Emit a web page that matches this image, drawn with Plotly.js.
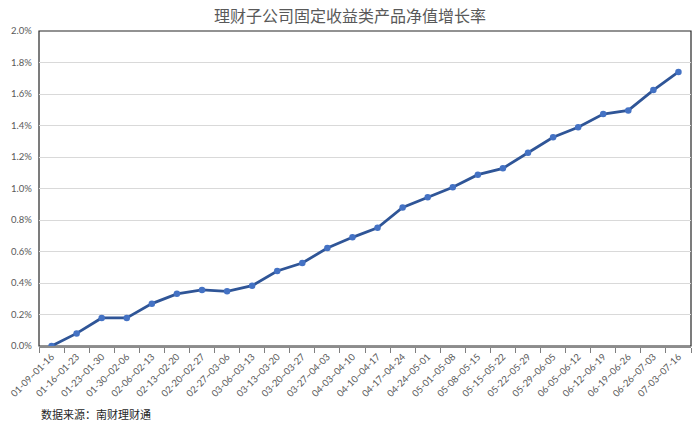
<!DOCTYPE html>
<html>
<head>
<meta charset="utf-8">
<script src="https://cdn.plot.ly/plotly-3.0.1.min.js"></script>
<style>html,body{margin:0;padding:0;background:#fff;}#chart{width:700px;height:431px;}</style>
</head>
<body>
<div id="chart"></div>
<script>
const categories = ["01-09~01-16","01-16~01-23","01-23~01-30","01-30~02-06","02-06~02-13","02-13~02-20","02-20~02-27","02-27~03-06","03-06~03-13","03-13~03-20","03-20~03-27","03-27~04-03","04-03~04-10","04-10~04-17","04-17~04-24","04-24~05-01","05-01~05-08","05-08~05-15","05-15~05-22","05-22~05-29","05-29~06-05","06-05~06-12","06-12~06-19","06-19~06-26","06-26~07-03","07-03~07-16"];
const growthRate = [0.000,0.080,0.178,0.178,0.269,0.331,0.356,0.347,0.383,0.476,0.527,0.622,0.690,0.751,0.880,0.944,1.008,1.088,1.128,1.227,1.325,1.389,1.473,1.496,1.625,1.740];
const yTickVals = [0,0.2,0.4,0.6,0.8,1.0,1.2,1.4,1.6,1.8,2.0];
const yTickText = ["0.0%","0.2%","0.4%","0.6%","0.8%","1.0%","1.2%","1.4%","1.6%","1.8%","2.0%"];
const titleText = "理财子公司固定收益类产品净值增长率";
const sourceText = "数据来源：南财理财通";

const trace = {
  x: categories,
  y: growthRate,
  type: "scatter",
  mode: "lines+markers",
  line: {color: "#2F5597", width: 2.8},
  marker: {color: "#4472C4", size: 6.5},
  hoverinfo: "x+y"
};

const layout = {
  width: 700, height: 431,
  margin: {l: 39, r: 9, t: 31, b: 85},
  paper_bgcolor: "#fff", plot_bgcolor: "#fff",
  showlegend: false,
  title: {text: titleText, x: 0.5, xanchor: "center", y: 0.962, yanchor: "middle",
          font: {family: "Noto Sans CJK SC", size: 16, color: "#595959"}},
  xaxis: {
    type: "category", range: [-0.5, 25.5],
    tickangle: -45, tickson: "boundaries", ticks: "outside", ticklen: 5, tickcolor: "#7f7f7f",
    showline: true, linecolor: "#8c8c8c", linewidth: 1.5,
    showgrid: false, zeroline: false,
    tickfont: {family: "Lato, 'Liberation Sans', sans-serif", size: 9.5, color: "#595959"}
  },
  yaxis: {
    range: [0, 2.0], tickvals: yTickVals, ticktext: yTickText,
    showgrid: true, gridcolor: "#d9d9d9", gridwidth: 1,
    zeroline: false, showline: false, ticks: "", ticklabelstandoff: 6,
    tickfont: {family: "Lato, 'Liberation Sans', sans-serif", size: 9.5, color: "#595959"}
  },
  shapes: [{type: "rect", xref: "paper", yref: "paper", x0: 0, x1: 1, y0: 0, y1: 1,
            line: {color: "#262626", width: 1.2}, layer: "below"}],
  annotations: [{text: sourceText, xref: "paper", yref: "paper", x: 0.0, y: -0.183,
                 xanchor: "left", yanchor: "top", showarrow: false,
                 font: {family: "Noto Sans CJK SC", size: 11, color: "#262626"}}]
};

Plotly.newPlot("chart", [trace], layout, {displayModeBar: false, staticPlot: true});
</script>
</body>
</html>
